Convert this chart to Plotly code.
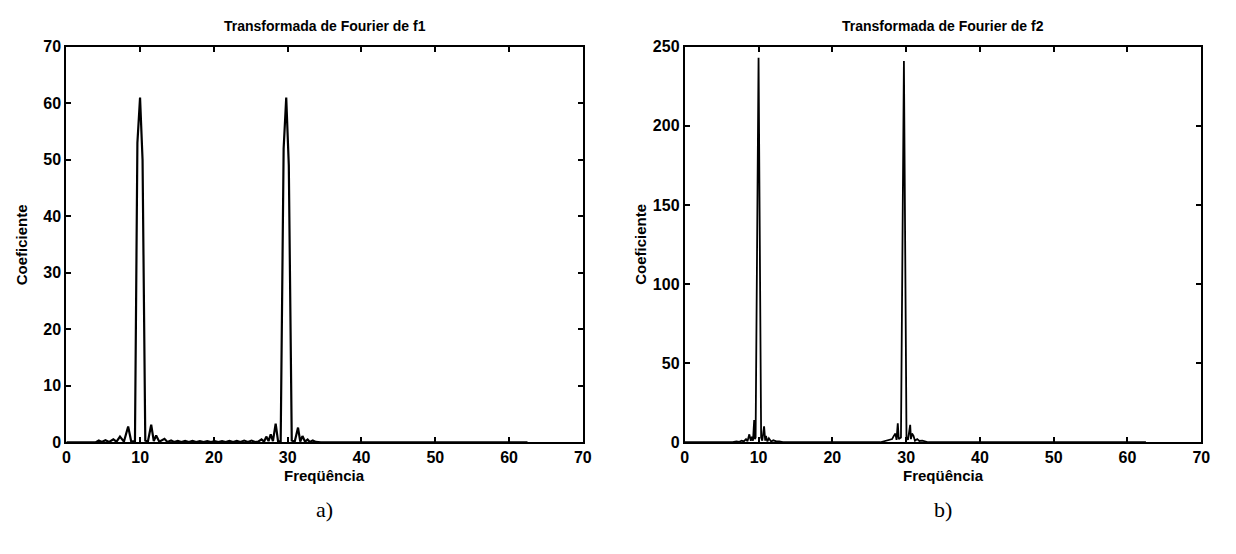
import plotly.graph_objects as go

# ---- data ----
f1_freq = [0, 4.0, 4.4, 4.8, 5.3, 5.8, 6.37, 6.8, 7.27, 7.8, 8.38, 8.8, 9.3, 9.63, 9.99, 10.33, 10.7,
           11.05, 11.5, 11.85, 12.17, 12.6, 13.3, 13.7, 14.2, 14.6, 15.1, 15.6, 16.1, 16.6, 17.1,
           17.6, 18.1, 18.6, 19.1, 19.6, 20.1, 20.6, 21.1, 21.6, 22.1, 22.6, 23.1, 23.6, 24.1,
           24.6, 25.1, 25.6, 26.0, 26.45, 26.8, 27.1, 27.4, 27.7, 28.0, 28.37, 28.7, 29.05,
           29.45, 29.8, 30.15, 30.55, 30.95, 31.4, 31.7, 32.0, 32.35, 32.7, 33.0, 33.4, 33.8,
           34.5, 62.5]
f1_coef = [0, 0, 0.3, 0.05, 0.35, 0.05, 0.5, 0.1, 1.0, 0.1, 2.8, 0.1, 0.2, 53, 61, 50, 0.3,
           0.1, 3.1, 0.2, 1.2, 0.1, 0.6, 0.05, 0.3, 0.05, 0.25, 0.05, 0.25, 0.05, 0.25,
           0.05, 0.2, 0.05, 0.2, 0.05, 0.2, 0.05, 0.2, 0.05, 0.25, 0.05, 0.25, 0.05, 0.3,
           0.05, 0.3, 0.05, 0.1, 0.5, 0.1, 1.0, 0.2, 1.4, 0.2, 3.3, 0.1, 0.2,
           52, 61, 49, 0.3, 0.1, 2.6, 0.1, 1.1, 0.1, 0.5, 0.05, 0.3, 0.05,
           0, 0]

f2_freq = [0, 6.5, 7.0, 7.4, 7.7, 8.0, 8.3, 8.5, 8.75, 8.95, 9.1, 9.25, 9.41, 9.5, 9.6, 10.0,
           10.35, 10.5, 10.75, 10.9, 11.0, 11.2, 11.4, 11.7, 12.0, 12.4, 12.8, 13.3,
           26.5, 27.0, 27.4, 27.8, 28.1, 28.33, 28.55, 28.7, 28.87, 29.0, 29.3, 29.7,
           30.05, 30.25, 30.55, 30.65, 30.8, 31.0, 31.2, 31.5, 31.8, 32.2, 32.6, 33.0, 62.5]
f2_coef = [0, 0, 0.5, 0.3, 1.0, 0.5, 2.0, 0.6, 5, 1.0, 3.5, 1.0, 14, 2.0, 3.0, 243,
           3.0, 1.0, 10, 1.0, 4, 0.5, 2.5, 0.5, 1.2, 0.5, 0.5, 0,
           0, 0.5, 1.0, 1.5, 2.0, 4, 5.5, 1.5, 12, 2.0, 3.0, 241,
           3.0, 1.5, 11, 2.0, 5.5, 4, 1.0, 2.0, 0.8, 1.0, 0.4, 0, 0]

x_ticks = [0, 10, 20, 30, 40, 50, 60, 70]
y1_ticks = [0, 10, 20, 30, 40, 50, 60, 70]
y2_ticks = [0, 50, 100, 150, 200, 250]

titles = ["Transformada de Fourier de f1", "Transformada de Fourier de f2"]
x_title = "Freqüência"
y_title = "Coeficiente"
panel_labels = ["a)", "b)"]

W, H = 1236, 554
FONT = "Liberation Sans"

fig = go.Figure()
fig.add_trace(go.Scatter(x=f1_freq, y=f1_coef, mode="lines",
                         line=dict(color="black", width=2.2), xaxis="x", yaxis="y",
                         showlegend=False, hoverinfo="skip"))
fig.add_trace(go.Scatter(x=f2_freq, y=f2_coef, mode="lines",
                         line=dict(color="black", width=1.8), xaxis="x2", yaxis="y2",
                         showlegend=False, hoverinfo="skip"))

# pixel geometry
L1, R1 = 63, 585
L2, R2 = 688, 1210
TOP, BOT = 40, 448
ydom = [(H - BOT) / H, (H - TOP) / H]

axis_common = dict(showline=True, linecolor="black", linewidth=2, mirror="ticks",
                   ticks="inside", ticklen=5, tickwidth=1.5, tickcolor="black",
                   showgrid=False, zeroline=False,
                   tickfont=dict(family=FONT, size=16, color="black", weight="bold"))

fig.update_layout(
    width=W, height=H,
    margin=dict(l=0, r=0, t=0, b=0),
    paper_bgcolor="white", plot_bgcolor="white",
    xaxis=dict(domain=[L1 / W, R1 / W], range=[0, 70], tickvals=x_ticks, anchor="y", **axis_common),
    yaxis=dict(domain=ydom, range=[0, 70], tickvals=y1_ticks, anchor="x", **axis_common),
    xaxis2=dict(domain=[L2 / W, R2 / W], range=[0, 70], tickvals=x_ticks, anchor="y2", **axis_common),
    yaxis2=dict(domain=ydom, range=[0, 250], tickvals=y2_ticks, anchor="x2", **axis_common),
)

ann = []
for (l, r), t, p in zip([(L1, R1), (L2, R2)], titles, panel_labels):
    cx = (l + r) / 2 / W
    ann.append(dict(x=cx, y=(H - 19) / H, xref="paper", yref="paper", text=t, showarrow=False,
                    xanchor="center", yanchor="middle",
                    font=dict(family=FONT, size=14, color="black", weight="bold")))
    ann.append(dict(x=cx, y=(H - 482) / H, xref="paper", yref="paper", text=x_title, showarrow=False,
                    xanchor="center", yanchor="middle",
                    font=dict(family=FONT, size=15, color="black", weight="bold")))
    ann.append(dict(x=(l - 45) / W, y=(H - (TOP + BOT) / 2) / H, xref="paper", yref="paper",
                    text=y_title, textangle=-90, showarrow=False,
                    xanchor="center", yanchor="middle",
                    font=dict(family=FONT, size=15, color="black", weight="bold")))
    ann.append(dict(x=cx, y=(H - 517) / H, xref="paper", yref="paper", text=p, showarrow=False,
                    xanchor="center", yanchor="middle",
                    font=dict(family="Liberation Serif", size=22, color="black")))
fig.update_layout(annotations=ann)

fig.write_html("out.html")
